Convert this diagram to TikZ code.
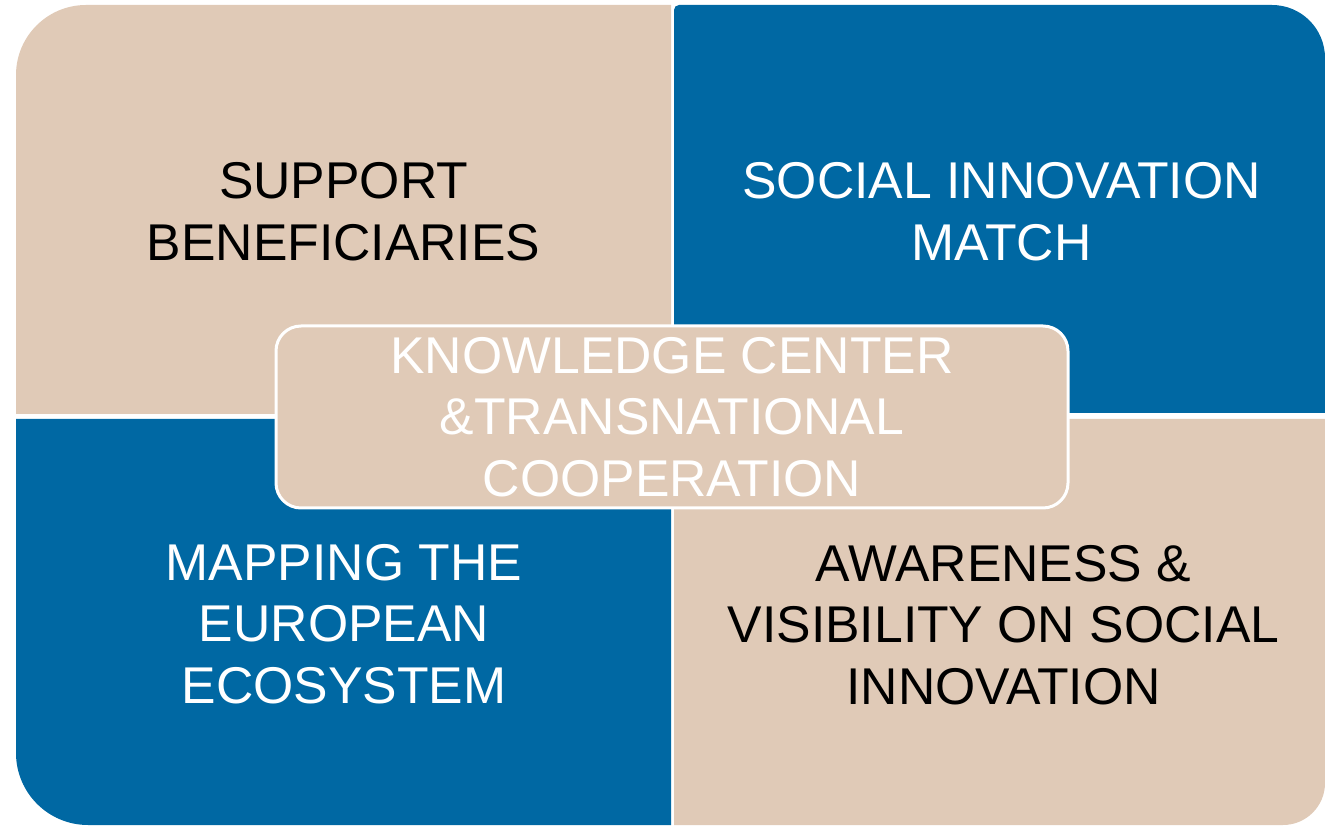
\documentclass[tikz,border=0pt]{standalone}
\usepackage{fontspec}
\setmainfont{Liberation Sans}
\definecolor{sand}{RGB}{224,202,183}
\definecolor{seablue}{RGB}{0,104,163}

\begin{document}
\begin{tikzpicture}[x=1pt,y=1pt]

\tikzset{label/.style={inner sep=0pt,align=center,font=\fontsize{51.7}{61.5}\selectfont},
darklabel/.style={label,text=black},
lightlabel/.style={label,text=white},
hub/.style={fill=sand,draw=white,line width=3pt,rounded corners=25pt,minimum width=792pt,minimum height=182pt,inner sep=0pt,
  align=center,text=white,font=\fontsize{51.7}{61.5}\selectfont}}

\useasboundingbox (0,0) rectangle (1325,825);

% Quadrants
\fill[sand] (671,411) -- (16,411) -- (16,750) arc[start angle=180,end angle=90,radius=70] -- (671,820) -- cycle;
\fill[seablue] (674,412) -- (674,815) arc[start angle=180,end angle=90,radius=5] -- (1272,820)
  arc[start angle=90,end angle=0,radius=53] -- (1325,412) -- cycle;
\fill[seablue] (16,406) -- (16,72) arc[start angle=180,end angle=270,radius=72] -- (671,0) -- (671,406) -- cycle;
\fill[sand] (674,406) -- (674,0) -- (1283,0) arc[start angle=270,end angle=360,radius=42] -- (1325,406) -- cycle;

% Quadrant texts
\node (support) [darklabel] at (343.5,613.5) {SUPPORT\\BENEFICIARIES};
\node (match) [lightlabel] at (1001.5,613.5) {SOCIAL INNOVATION\\MATCH};
\node (mapping) [lightlabel] at (344,201) {MAPPING THE\\EUROPEAN\\ECOSYSTEM};
\node (awareness) [darklabel] at (1003.5,200) {AWARENESS \&\\VISIBILITY ON SOCIAL\\INNOVATION};

% Central box
\node (center) [hub] at (672,408) {KNOWLEDGE CENTER\\\&TRANSNATIONAL\\COOPERATION};

\end{tikzpicture}
\end{document}
